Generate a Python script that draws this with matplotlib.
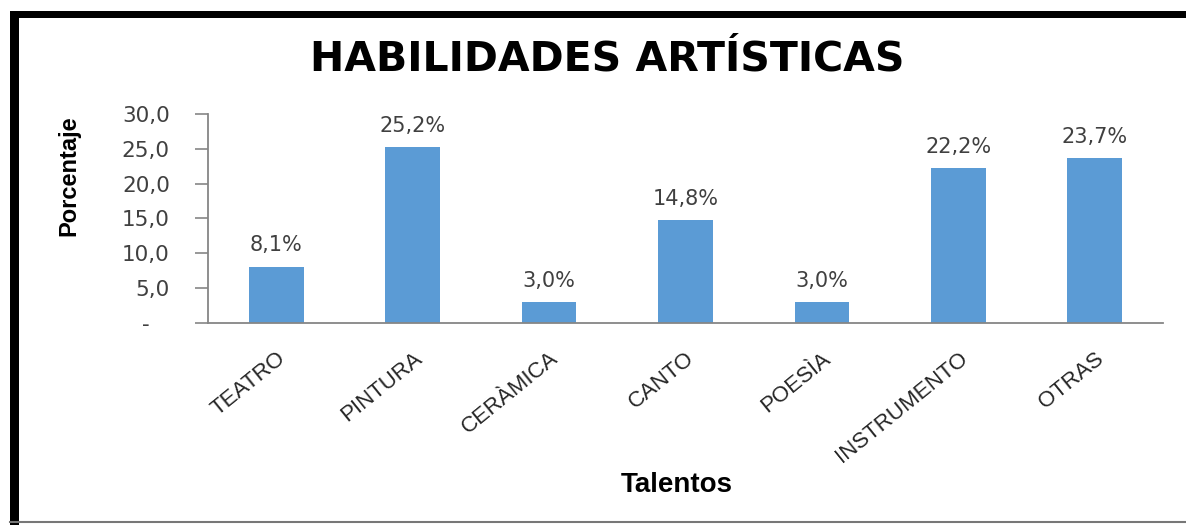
import matplotlib
matplotlib.use("Agg")
import matplotlib.pyplot as plt
from matplotlib.patches import Rectangle
from matplotlib.lines import Line2D

categories = ["TEATRO", "PINTURA", "CERÀMICA", "CANTO", "POESÌA", "INSTRUMENTO", "OTRAS"]
values = [8.1, 25.2, 3.0, 14.8, 3.0, 22.2, 23.7]
yticks = [0, 5, 10, 15, 20, 25, 30]
title = "HABILIDADES ARTÍSTICAS"
xlabel = "Talentos"
ylabel = "Porcentaje"

BAR = "#5B9BD5"
GRAY = "#868686"
TXT = "#404040"

fig = plt.figure(figsize=(11.86, 5.25), dpi=100)
fig.patch.set_facecolor("white")
ax = fig.add_axes([0.1754, 0.3848, 0.8052, 0.3981])

x = list(range(len(categories)))
bars = ax.bar(x, values, width=0.4, color=BAR, zorder=2)
ax.set_xlim(-0.5, len(categories) - 0.5)
ax.set_ylim(0, 30)

ax.bar_label(bars, labels=[f"{v:.1f}".replace(".", ",") + "%" for v in values],
             padding=8, fontsize=15, color=TXT, family="DejaVu Sans")

ax.set_yticks(yticks)
ax.set_yticklabels(["-   " if t == 0 else f"{t:.1f}".replace(".", ",") for t in yticks],
                   fontsize=15.5, color=TXT, family="DejaVu Sans")
ax.tick_params(axis="y", direction="out", length=9.5, width=1.2, color=GRAY, pad=18)
ax.set_xticks(x)
ax.set_xticklabels(categories, rotation=39, ha="right", rotation_mode="anchor",
                   fontsize=16, color="#262626", family="Liberation Sans")
ax.tick_params(axis="x", length=0, pad=18)

for s in ["top", "right"]:
    ax.spines[s].set_visible(False)
for s in ["left", "bottom"]:
    ax.spines[s].set_color(GRAY)
    ax.spines[s].set_linewidth(1.3)

fig.text(0.512, 0.887, title, ha="center", va="center", fontsize=29.5,
         fontweight="bold", family="DejaVu Sans", color="black")
fig.text(0.571, 0.076, xlabel, ha="center", va="center", fontsize=20,
         fontweight="bold", family="Liberation Sans", color="black")
fig.text(0.058, 0.665, ylabel, ha="center", va="center", rotation=90, fontsize=17,
         fontweight="bold", family=["Liberation Sans Narrow", "Liberation Sans"], color="black")

# outer frame
W, H = 1186, 525
fig.add_artist(Rectangle((10 / W, 0), 9 / W, 1 - 12 / H, transform=fig.transFigure,
                         facecolor="black", edgecolor="none"))
fig.add_artist(Rectangle((10 / W, 1 - 18 / H), 1 - 10 / W, 7 / H, transform=fig.transFigure,
                         facecolor="black", edgecolor="none"))
fig.add_artist(Line2D([10 / W, 1], [1 - 522 / H, 1 - 522 / H], transform=fig.transFigure,
                      color="#777777", linewidth=1.5))

fig.savefig("out.png", dpi=100)
